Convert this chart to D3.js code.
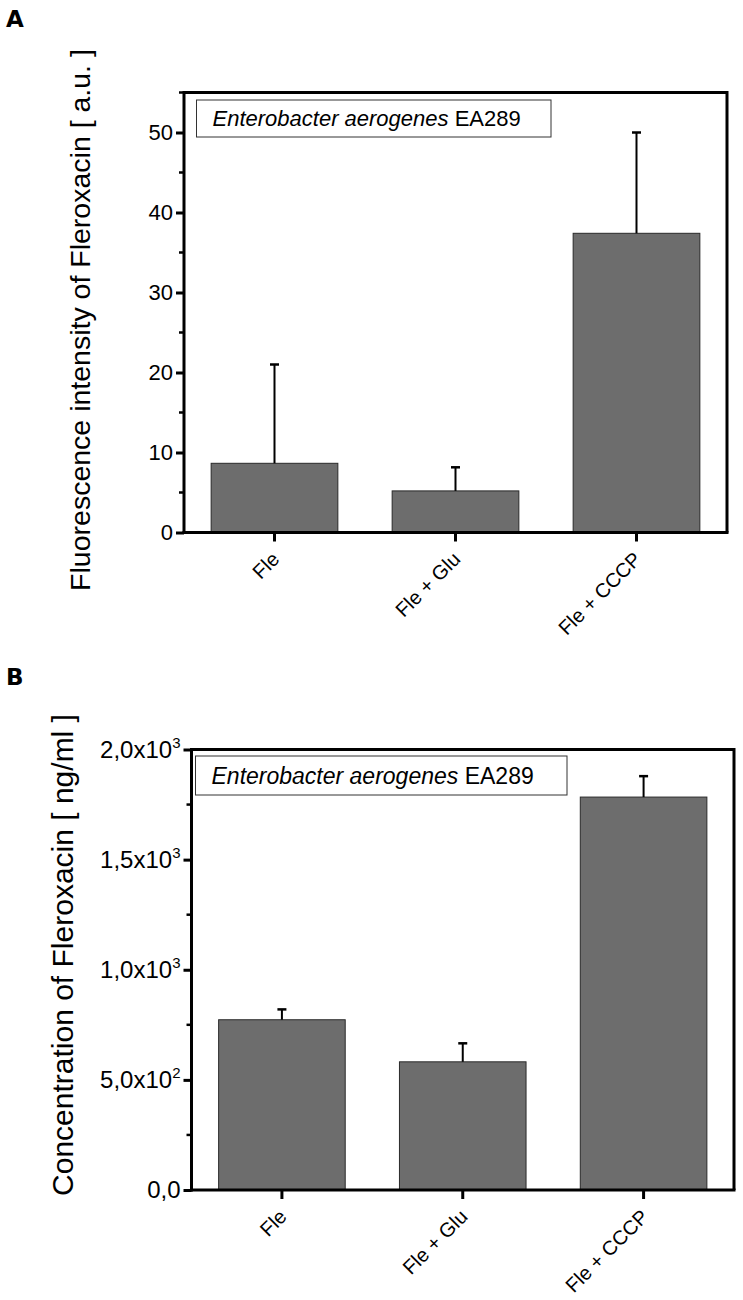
<!DOCTYPE html>
<html>
<head>
<meta charset="utf-8">
<script src="https://cdn.jsdelivr.net/npm/d3@7"></script>
<style>
  body { margin: 0; background: #fff; }
  svg { display: block; font-family: "Liberation Sans", Arial, sans-serif; }
</style>
</head>
<body>
<svg id="chart" width="743" height="1300"></svg>
<script>
// Data
const categories = ["Fle", "Fle + Glu", "Fle + CCCP"];
const fluorValues = [8.65, 5.2, 37.4];
const fluorErrors = [12.35, 2.95, 12.6];
const fluorTicks = [0, 10, 20, 30, 40, 50];
const fluorMinor = [5, 15, 25, 35, 45, 55];

const concValues = [773, 582, 1784];
const concErrors = [47, 84, 95];
const concTicks = [0, 500, 1000, 1500, 2000];
const concTickLabels = [["0,0", ""], ["5,0x10", "2"], ["1,0x10", "3"], ["1,5x10", "3"], ["2,0x10", "3"]];
const concMinor = [250, 750, 1250, 1750];

const svg = d3.select("#chart");
svg.append("rect").attr("width", 743).attr("height", 1300).attr("fill", "#fff");

function drawPanel(p) {
    const g = svg.append("g");

    const x = d3.scaleBand()
        .domain(categories)
        .range([p.left, p.right])
        .paddingInner(0.3)
        .paddingOuter(0.15);

    const y = d3.scaleLinear()
        .domain(p.domain)
        .range([p.bottom, p.top]);

    // bars
    g.selectAll("rect.bar")
        .data(p.values)
        .enter().append("rect")
        .attr("class", "bar")
        .attr("x", (d, i) => x(categories[i]))
        .attr("width", x.bandwidth())
        .attr("y", d => y(d))
        .attr("height", d => y(0) - y(d))
        .attr("fill", "#6d6d6d")
        .attr("stroke", "#2a2a2a")
        .attr("stroke-width", 1);

    // error bars (upper only)
    const cx = i => x(categories[i]) + x.bandwidth() / 2;
    g.selectAll("line.err")
        .data(p.values)
        .enter().append("line")
        .attr("x1", (d, i) => cx(i))
        .attr("x2", (d, i) => cx(i))
        .attr("y1", d => y(d))
        .attr("y2", (d, i) => y(d + p.errors[i]))
        .attr("stroke", "#000")
        .attr("stroke-width", 2);
    g.selectAll("line.cap")
        .data(p.values)
        .enter().append("line")
        .attr("x1", (d, i) => cx(i) - 4.5)
        .attr("x2", (d, i) => cx(i) + 4.5)
        .attr("y1", (d, i) => y(d + p.errors[i]))
        .attr("y2", (d, i) => y(d + p.errors[i]))
        .attr("stroke", "#000")
        .attr("stroke-width", 2.5);

    // frame top and right
    g.append("path")
        .attr("d", `M${p.left},${p.top}H${p.right}V${p.bottom}`)
        .attr("fill", "none")
        .attr("stroke", "#000")
        .attr("stroke-width", 3);

    // minor y ticks
    g.selectAll("line.minor")
        .data(p.minor)
        .enter().append("line")
        .attr("x1", p.left - 5)
        .attr("x2", p.left)
        .attr("y1", d => y(d))
        .attr("y2", d => y(d))
        .attr("stroke", "#000")
        .attr("stroke-width", 2.5);

    // y axis
    const yAxis = g.append("g")
        .attr("transform", `translate(${p.left},0)`)
        .call(d3.axisLeft(y).tickValues(p.ticks).tickSize(8).tickPadding(3).tickFormat(p.format));
    yAxis.select(".domain").attr("stroke-width", 3).attr("d", `M0,${p.bottom + 1.5}V${p.top - 1.5}`);
    yAxis.selectAll(".tick line").attr("stroke-width", 3);
    yAxis.selectAll(".tick text")
        .attr("font-size", p.tickFont)
        .attr("fill", "#000")
        .attr("font-family", "Liberation Sans, Arial, sans-serif");
    if (p.tickLabels) {
        yAxis.selectAll(".tick text").each(function(d, i) {
            const t = d3.select(this).text(null);
            t.append("tspan").text(p.tickLabels[i][0]);
            if (p.tickLabels[i][1]) {
                t.append("tspan").attr("dy", -10).attr("font-size", 15).text(p.tickLabels[i][1]);
            }
        });
    }

    // x axis
    const xAxis = g.append("g")
        .attr("transform", `translate(0,${p.bottom})`)
        .call(d3.axisBottom(x).tickSize(9).tickFormat(""));
    xAxis.select(".domain").attr("stroke-width", 3).attr("d", `M${p.left - 1.5},0H${p.right + 1.5}`);
    xAxis.selectAll(".tick line").attr("stroke-width", 3);

    g.selectAll("text.xlab")
        .data(categories)
        .enter().append("text")
        .attr("class", "xlab")
        .attr("transform", d => `translate(${x(d) + x.bandwidth() / 2 + 6},${p.bottom + 28}) rotate(-45)`)
        .attr("text-anchor", "end")
        .attr("font-size", p.catFont)
        .text(d => d);

    // legend box
    g.append("rect")
        .attr("x", p.legend.x)
        .attr("y", p.legend.y)
        .attr("width", p.legend.w)
        .attr("height", p.legend.h)
        .attr("fill", "#fff")
        .attr("stroke", "#333")
        .attr("stroke-width", 1);
    const lt = g.append("text")
        .attr("x", p.legend.x + 16)
        .attr("y", p.legend.y + p.legend.h / 2 + p.legend.font * 0.36)
        .attr("font-size", p.legend.font);
    lt.append("tspan").attr("font-style", "italic").text("Enterobacter aerogenes");
    lt.append("tspan").text(" EA289");

    // y title
    g.append("text")
        .attr("transform", `translate(${p.titleX},${p.titleY}) rotate(-90)`)
        .attr("text-anchor", "middle")
        .attr("font-size", p.titleFont)
        .text(p.title);

    // panel letter
    g.append("text")
        .attr("x", 6)
        .attr("y", p.letterY)
        .attr("font-size", 23)
        .attr("font-weight", 900)
        .attr("font-family", "DejaVu Sans, sans-serif")
        .text(p.letter);
}

drawPanel({
    letter: "A", letterY: 27,
    left: 184, right: 727, top: 92.5, bottom: 532.5,
    domain: [0, 55],
    values: fluorValues, errors: fluorErrors,
    ticks: fluorTicks, minor: fluorMinor,
    format: d3.format("d"), tickFont: 22,
    catFont: 20,
    legend: {x: 196.5, y: 100, w: 354.5, h: 37, font: 22},
    title: "Fluorescence intensity of Fleroxacin [ a.u. ]",
    titleX: 90, titleY: 320, titleFont: 28.5
});

drawPanel({
    letter: "B", letterY: 685,
    left: 191.5, right: 734, top: 749.5, bottom: 1190,
    domain: [0, 2000],
    values: concValues, errors: concErrors,
    ticks: concTicks, minor: concMinor,
    format: d3.format("d"), tickLabels: concTickLabels, tickFont: 24,
    catFont: 20,
    legend: {x: 195.5, y: 756, w: 371.5, h: 39, font: 23},
    title: "Concentration of Fleroxacin [ ng/ml ]",
    titleX: 73, titleY: 955, titleFont: 30
});
</script>
</body>
</html>
